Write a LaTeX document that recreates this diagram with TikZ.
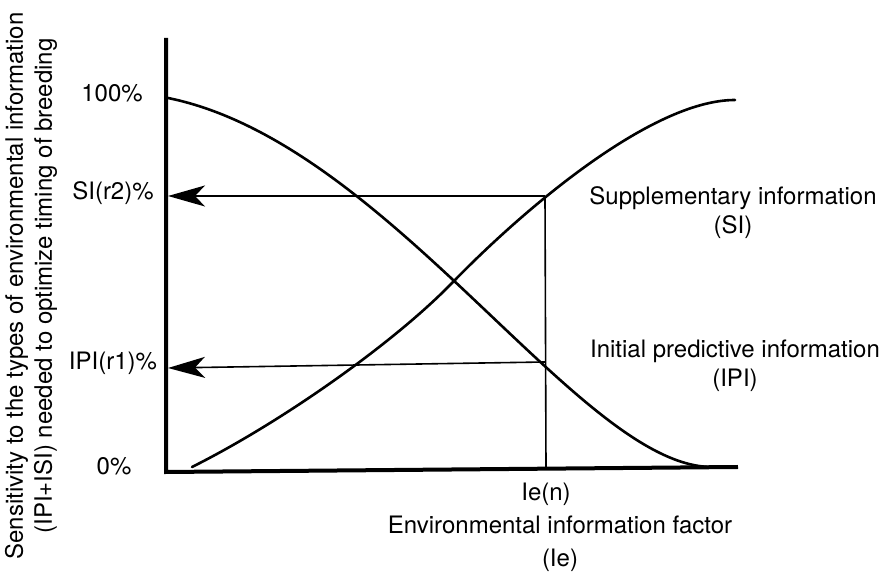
\documentclass[tikz,border=0pt]{standalone}
\usepackage{fontspec}
\setmainfont{TeX Gyre Heros}
\usetikzlibrary{arrows.meta, positioning}

\begin{document}
\begin{tikzpicture}[x=0.5pt, y=0.5pt,
    axis/.style={line width=2pt},
    curve/.style={line width=1.3pt, line cap=round},
    guide/.style={line width=0.8pt},
    readoff/.style={guide, -{Stealth[length=18.5pt, width=10.5pt, inset=5pt]}},
    lbl/.style={font=\fontsize{12}{14.5}\selectfont, align=center, inner sep=0pt}]
    \useasboundingbox (0,0) rectangle (885,573);

    % axes
    \coordinate (origin) at (166,101);
    \coordinate (ytop) at (166,535);
    \coordinate (xend) at (738,106);
    \draw[axis] (ytop) -- (origin) -- (xend);

    % curves
    \draw[curve] (168,475) .. controls (390,430) and (580,106) .. (712,106);
    \draw[curve] (192,106) .. controls (280,150) and (393,229) .. (453,291)
        .. controls (520,360) and (650,473) .. (735,473);

    % read-off lines at Ie(n)
    \coordinate (sipt) at (545,377);
    \coordinate (ipipt) at (545,211);
    \coordinate (ien) at (546,106);
    \coordinate (siax) at (168,377);
    \coordinate (ipiax) at (168,205);
    \draw[guide] (sipt) -- (ien);
    \draw[readoff] (sipt) -- (siax);
    \draw[readoff] (ipipt) -- (ipiax);

    % tick labels
    \node[lbl] (r100) at (112,480) {100\%};
    \node[lbl] (rsi) at (113,380) {SI(r2)\%};
    \node[lbl] (ripi) at (113,210) {IPI(r1)\%};
    \node[lbl] (r0) at (114,107) {0\%};
    \node[lbl, below=8pt of ien] (ienlbl) {Ie(n)};

    % curve names
    \node[lbl] (silbl) at (733,360) {Supplementary information\\(SI)};
    \node[lbl] (ipilbl) at (735,207) {Initial predictive information\\(IPI)};

    % axis titles
    \node[lbl, font=\fontsize{12}{16.5}\selectfont] (xtitle) at (560,29) {Environmental information factor\\(Ie)};
    \node[lbl, rotate=90] (ytitle) at (31,287) {Sensitivity to the types of environmental information\\(IPI+ISI) needed to optimize timing of breeding};
\end{tikzpicture}
\end{document}
